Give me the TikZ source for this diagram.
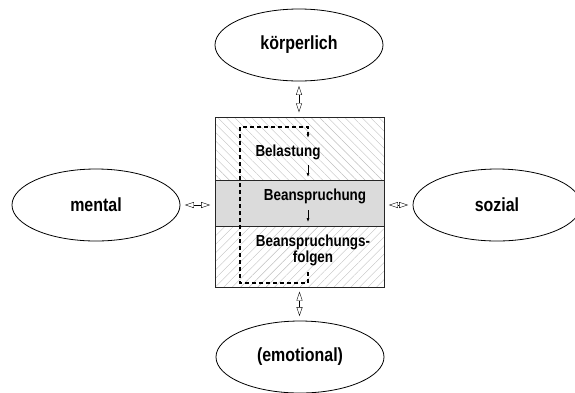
\documentclass[tikz,border=0pt]{standalone}
\usepackage{fontspec}
\setmainfont{Liberation Sans}[FakeStretch=0.84]
\usetikzlibrary{shapes.geometric, arrows.meta, patterns.meta}

\begin{document}
\begin{tikzpicture}[x=1pt, y=-1pt,
    aspect/.style={ellipse, draw=black, line width=0.8pt, minimum width=168pt, minimum height=72pt, inner sep=0pt, font=\fontsize{19}{21}\selectfont\bfseries},
    layer/.style={rectangle, draw=black!85, line width=0.8pt, minimum width=169pt, inner sep=0pt},
    label/.style={font=\fontsize{16}{14}\selectfont\bfseries, align=center, inner sep=0pt},
    link/.style={{Triangle[open,length=9pt,width=6pt]}-{Triangle[open,length=9pt,width=6pt]}, line width=0.4pt, shorten <=4.5pt, shorten >=4.5pt},
    flow/.style={-{Latex[length=4pt,width=3pt]}, line width=0.6pt}
]
    \useasboundingbox (0,0) rectangle (575,392);

    \node[layer, minimum height=63pt, pattern={Lines[angle=-45,distance=6pt,line width=0.4pt]}, pattern color=black!25] (load) at (299.5,148.5) {};
    \node[layer, minimum height=46pt, fill=black!14] (strain) at (299.5,203) {};
    \node[layer, minimum height=61pt, pattern={Lines[angle=45,distance=6pt,line width=0.4pt]}, pattern color=black!25] (result) at (299.5,256.5) {};

    \node[label] (bel) at (288,152) {Belastung};
    \node[label] (bean) at (315,196) {Beanspruchung};
    \node[label] (folg) at (313,250) {Beanspruchungs-\\folgen};

    \node[aspect] (body) at (299,45) {körperlich};
    \node[aspect] (mind) at (96,205) {mental};
    \node[aspect] (social) at (497,205) {sozial};
    \node[aspect] (emo) at (300,357) {(emotional)};

    \draw[link] (body.south) -- (body.south |- load.north);
    \draw[link] (result.south) -- (result.south |- emo.north);
    \draw[link] (mind.east) -- (mind.east -| strain.west);
    \draw[link] (strain.east |- social.west) -- (social.west);

    \draw[dashed, dash pattern=on 4pt off 3pt, line width=1.1pt, -{Latex[length=4pt,width=3pt]}]
        (308,272) -- (308,283) -- (240,283) -- (240,127) -- (308,127) -- (308,138);
    \draw[flow] (308,165) -- (308,177);
    \draw[flow] (308,210) -- (308,222);
\end{tikzpicture}
\end{document}
